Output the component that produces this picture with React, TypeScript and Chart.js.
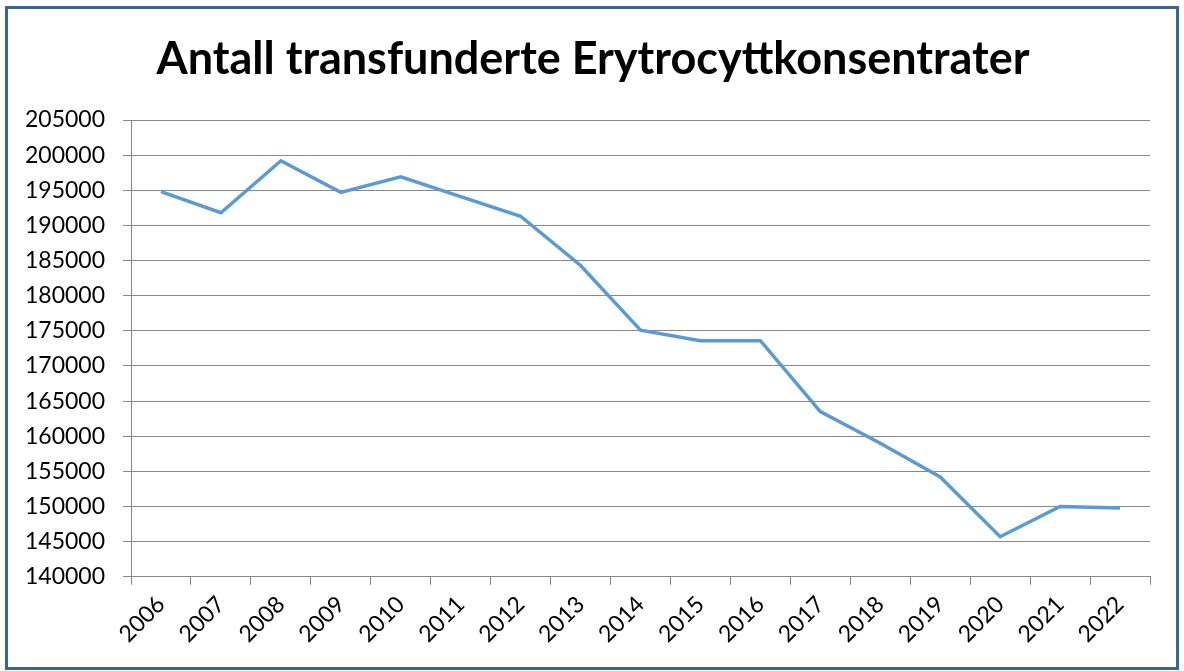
import React, { useEffect, useRef } from "react";
import { Chart, registerables } from "chart.js";

Chart.register(...registerables);

const TITLE = "Antall transfunderte Erytrocyttkonsentrater";
const years = ["2006","2007","2008","2009","2010","2011","2012","2013","2014","2015","2016","2017","2018","2019","2020","2021","2022"];
const units = [194800,191800,199200,194700,196900,194100,191300,184300,175100,173600,173600,163500,159000,154200,145700,150000,149800];
const yMin = 140000;
const yMax = 205000;
const yStep = 5000;

const borderPlugin = {
  id: "frameBorder",
  afterDraw(chart: any) {
    const ctx = chart.ctx;
    ctx.save();
    ctx.strokeStyle = "#3d6496";
    ctx.lineWidth = 3;
    ctx.strokeRect(6.5, 7.5, 1171, 661);
    ctx.restore();
  },
};

export default function App() {
  const ref = useRef<HTMLCanvasElement | null>(null);
  useEffect(() => {
    if (!ref.current) return;
    const chart = new Chart(ref.current, {
      type: "line",
      data: {
        labels: years,
        datasets: [
          {
            label: "Antall",
            data: units,
            borderColor: "#5b9bd5",
            backgroundColor: "#5b9bd5",
            borderWidth: 3.5,
            pointRadius: 0,
            tension: 0,
            yAxisID: "y",
          },
        ],
      },
      options: {
        animation: false,
        responsive: false,
        layout: { padding: { top: 20, left: 7, right: 5, bottom: 17 } },
        plugins: {
          legend: { display: false },
          tooltip: { enabled: false },
          title: {
            display: true,
            text: TITLE,
            color: "#000",
            font: { family: "Lato", size: 45, weight: "bold" },
            padding: { top: 12, bottom: 34 },
          },
        },
        scales: {
          x: {
            offset: true,
            grid: {
              offset: true,
              drawOnChartArea: false,
              drawTicks: true,
              tickLength: 8,
              color: "#888",
            },
            border: { color: "#888", width: 1 },
            ticks: {
              autoSkip: false,
              maxRotation: 45,
              minRotation: 45,
              color: "#000",
              padding: 6,
              font: { family: "Lato", size: 23 },
            },
          },
          y: {
            min: yMin,
            max: yMax,
            grid: { color: "#888", tickLength: 8 },
            border: { color: "#888", width: 1 },
            ticks: {
              stepSize: yStep,
              maxTicksLimit: 20,
              color: "#000",
              padding: 18,
              font: { family: "Lato", size: 23 },
              callback: (v: any) => String(v),
            },
          },
          spacer: {
            type: "linear",
            position: "right",
            display: true,
            grid: { display: false, drawTicks: false },
            border: { display: false },
            ticks: { display: false },
            afterFit: (scale: any) => {
              scale.width = 29;
            },
          },
        },
      },
      plugins: [borderPlugin],
    });
    return () => chart.destroy();
  }, []);
  return (
    <div style={{ position: "fixed", left: 0, top: 0, width: 1184, height: 671, background: "#fff" }}>
      <canvas ref={ref} width={1184} height={671} style={{ display: "block" }} />
    </div>
  );
}
